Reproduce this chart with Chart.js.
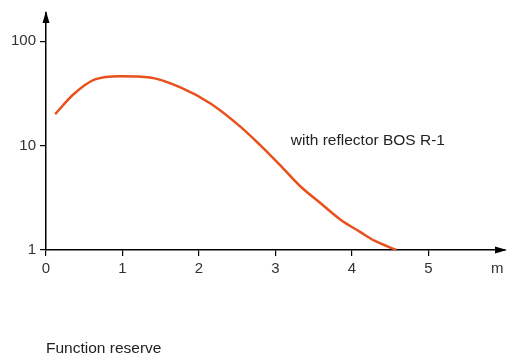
<!DOCTYPE html>
<html><head><meta charset="utf-8">
<script src="https://cdn.jsdelivr.net/npm/chart.js@4"></script>
<style>html,body{margin:0;padding:0;background:#fff}#w{width:508px;height:356px}</style>
</head><body><div id="w"><canvas id="c"></canvas></div>
<script>
const distances = [0.12, 0.36, 0.64, 0.97, 1.36, 1.75, 2.15, 2.54, 2.8, 3.06, 3.32, 3.59, 3.85, 4.1, 4.3, 4.58];
const reserve   = [20, 31, 43, 46.2, 44.9, 36.3, 25.3, 15.2, 10.1, 6.5, 4.1, 2.8, 1.95, 1.5, 1.22, 1.0];
const xTicks = [0, 1, 2, 3, 4, 5];
const yTicks = [1, 10, 100];
const seriesLabel = 'with reflector BOS R-1';
const xUnit = 'm';
const footerText = 'Function reserve';

const FONT = '"Liberation Sans", Arial, sans-serif';
const deco = {
  id: 'deco',
  afterDraw(chart) {
    const ctx = chart.ctx, a = chart.chartArea;
    ctx.save();
    ctx.fillStyle = '#000';
    ctx.beginPath();
    ctx.moveTo(a.left, a.top - 2);
    ctx.lineTo(a.left - 3.5, a.top + 10);
    ctx.lineTo(a.left + 3.5, a.top + 10);
    ctx.closePath(); ctx.fill();
    ctx.beginPath();
    ctx.moveTo(a.right + 2, a.bottom);
    ctx.lineTo(a.right - 10, a.bottom - 3.5);
    ctx.lineTo(a.right - 10, a.bottom + 3.5);
    ctx.closePath(); ctx.fill();
    ctx.fillStyle = '#222';
    ctx.font = '15.5px ' + FONT;
    ctx.textBaseline = 'alphabetic';
    ctx.textAlign = 'left';
    const xs = chart.scales.x, ys = chart.scales.y;
    ctx.fillText(seriesLabel, xs.getPixelForValue(3.2), ys.getPixelForValue(10) - 1);
    ctx.textAlign = 'center';
    ctx.font = '15px ' + FONT;
    ctx.fillStyle = '#333';
    ctx.fillText(xUnit, xs.getPixelForValue(5.9), a.bottom + 23);
    ctx.textAlign = 'left';
    ctx.fillStyle = '#222';
    ctx.font = '15.5px ' + FONT;
    ctx.fillText(footerText, 46, 353);
    ctx.restore();
  }
};

new Chart(document.getElementById('c'), {
  type: 'line',
  data: { datasets: [{
    data: distances.map((x, i) => ({x, y: reserve[i]})),
    borderColor: '#e8501c', borderWidth: 2.5, pointRadius: 0,
    cubicInterpolationMode: 'monotone', fill: false
  }]},
  options: {
    responsive: true, maintainAspectRatio: false, animation: false,
    layout: { padding: { top: 10, right: 3, left: 0, bottom: 0 } },
    plugins: { legend: { display: false }, tooltip: { enabled: false } },
    scales: {
      x: {
        type: 'linear', min: 0, max: 6,
        afterBuildTicks: s => { s.ticks = xTicks.map(v => ({value: v})); },
        afterFit: s => { s.height = 106; },
        grid: { drawOnChartArea: false, drawTicks: true, tickLength: 6, color: '#000', lineWidth: 1.2 },
        border: { color: '#000', width: 1.5 },
        ticks: { color: '#333', font: { family: FONT, size: 15 }, padding: 4, maxRotation: 0 }
      },
      y: {
        type: 'logarithmic', min: 1, max: 186,
        afterBuildTicks: s => { s.ticks = yTicks.map(v => ({value: v})); },
        afterFit: s => { s.width = 46; },
        grid: { drawOnChartArea: false, drawTicks: true, tickLength: 6, color: '#000', lineWidth: 1.2 },
        border: { color: '#000', width: 1.5 },
        ticks: { color: '#333', font: { family: FONT, size: 15 }, padding: 4, callback: v => String(v) }
      }
    }
  },
  plugins: [deco]
});
</script></body></html>
